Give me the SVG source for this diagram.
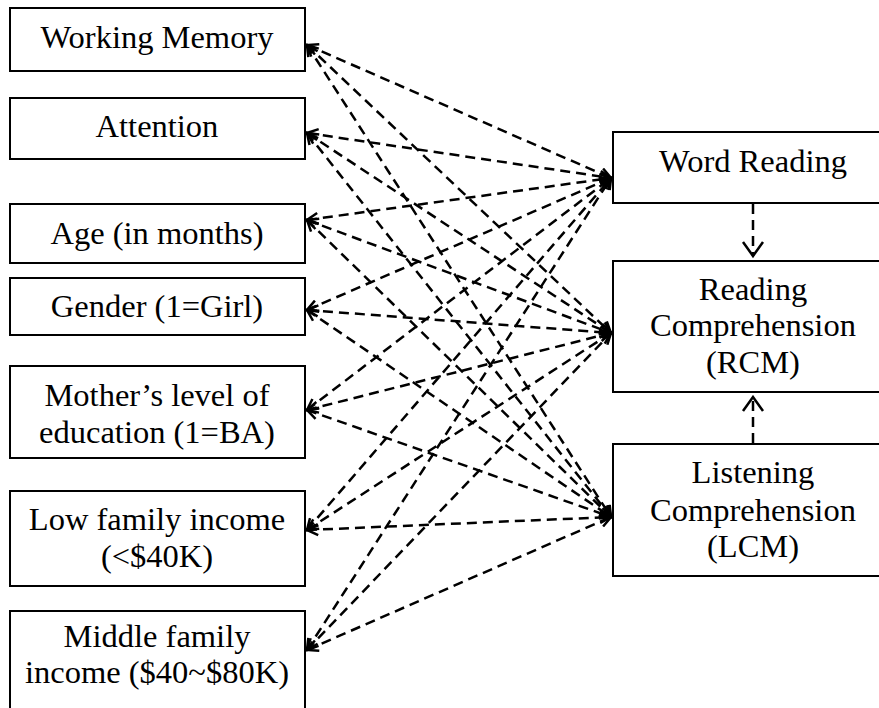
<svg xmlns="http://www.w3.org/2000/svg" width="879" height="708" viewBox="0 0 879 708">
<style>
.box{fill:#fff;stroke:#000;stroke-width:2}
.t{font-family:"Liberation Serif","Times New Roman",serif;font-size:32.5px;fill:#000;text-anchor:middle}
.c{fill:none;stroke:#000;stroke-width:2.5;stroke-dasharray:10 6}
</style>
<defs>
<marker id="ah" markerUnits="userSpaceOnUse" markerWidth="14" markerHeight="14" viewBox="-1 -7 13 14" refX="11" refY="0" orient="auto-start-reverse">
<path d="M0,-5.5 L11,0 L0,5.5" fill="none" stroke="#000" stroke-width="2.5" stroke-dasharray="none"/>
</marker>
<marker id="av" markerUnits="userSpaceOnUse" markerWidth="18" markerHeight="24" viewBox="-1 -12 17 24" refX="14" refY="0" orient="auto">
<path d="M0,-10 L14,0 L0,10" fill="none" stroke="#000" stroke-width="2.5" stroke-dasharray="none"/>
</marker>
</defs>
<rect width="879" height="708" fill="#fff"/>
<g id="connectors">
<line class="c" x1="307" y1="45" x2="611" y2="178" marker-start="url(#ah)" marker-end="url(#ah)"/>
<line class="c" x1="307" y1="45" x2="611" y2="333" marker-start="url(#ah)" marker-end="url(#ah)"/>
<line class="c" x1="307" y1="45" x2="611" y2="517" marker-start="url(#ah)" marker-end="url(#ah)"/>
<line class="c" x1="307" y1="133" x2="611" y2="178" marker-start="url(#ah)" marker-end="url(#ah)"/>
<line class="c" x1="307" y1="133" x2="611" y2="333" marker-start="url(#ah)" marker-end="url(#ah)"/>
<line class="c" x1="307" y1="133" x2="611" y2="517" marker-start="url(#ah)" marker-end="url(#ah)"/>
<line class="c" x1="307" y1="220" x2="611" y2="178" marker-start="url(#ah)" marker-end="url(#ah)"/>
<line class="c" x1="307" y1="220" x2="611" y2="333" marker-start="url(#ah)" marker-end="url(#ah)"/>
<line class="c" x1="307" y1="220" x2="611" y2="517" marker-start="url(#ah)" marker-end="url(#ah)"/>
<line class="c" x1="307" y1="310" x2="611" y2="178" marker-start="url(#ah)" marker-end="url(#ah)"/>
<line class="c" x1="307" y1="310" x2="611" y2="333" marker-start="url(#ah)" marker-end="url(#ah)"/>
<line class="c" x1="307" y1="310" x2="611" y2="517" marker-start="url(#ah)" marker-end="url(#ah)"/>
<line class="c" x1="307" y1="410" x2="611" y2="178" marker-start="url(#ah)" marker-end="url(#ah)"/>
<line class="c" x1="307" y1="410" x2="611" y2="333" marker-start="url(#ah)" marker-end="url(#ah)"/>
<line class="c" x1="307" y1="410" x2="611" y2="517" marker-start="url(#ah)" marker-end="url(#ah)"/>
<line class="c" x1="307" y1="530" x2="611" y2="178" marker-start="url(#ah)" marker-end="url(#ah)"/>
<line class="c" x1="307" y1="530" x2="611" y2="333" marker-start="url(#ah)" marker-end="url(#ah)"/>
<line class="c" x1="307" y1="530" x2="611" y2="517" marker-start="url(#ah)" marker-end="url(#ah)"/>
<line class="c" x1="307" y1="650" x2="611" y2="178" marker-start="url(#ah)" marker-end="url(#ah)"/>
<line class="c" x1="307" y1="650" x2="611" y2="333" marker-start="url(#ah)" marker-end="url(#ah)"/>
<line class="c" x1="307" y1="650" x2="611" y2="517" marker-start="url(#ah)" marker-end="url(#ah)"/>
<line class="c" x1="753" y1="204" x2="753" y2="256" marker-end="url(#av)"/>
<line class="c" x1="753" y1="443" x2="753" y2="397" marker-end="url(#av)"/>
</g>
<g id="n-wm"><rect class="box" x="10" y="8" width="295" height="63"/><text class="t" x="157" y="48">Working Memory</text></g>
<g id="n-att"><rect class="box" x="10" y="98" width="295" height="61"/><text class="t" x="157" y="137">Attention</text></g>
<g id="n-age"><rect class="box" x="10" y="204" width="295" height="59"/><text class="t" x="157" y="244">Age (in months)</text></g>
<g id="n-gender"><rect class="box" x="10" y="278" width="295" height="57"/><text class="t" x="157" y="317">Gender (1=Girl)</text></g>
<g id="n-mother"><rect class="box" x="10" y="366" width="295" height="92"/><text class="t" x="157" y="406">Mother’s level of</text><text class="t" x="157" y="443">education (1=BA)</text></g>
<g id="n-low"><rect class="box" x="10" y="491" width="295" height="95"/><text class="t" x="157" y="530">Low family income</text><text class="t" x="157" y="567">(&lt;$40K)</text></g>
<g id="n-mid"><rect class="box" x="10" y="611" width="295" height="110"/><text class="t" x="157" y="647">Middle family</text><text class="t" x="157" y="683">income ($40~$80K)</text></g>
<g id="n-wr"><rect class="box" x="613" y="132" width="280" height="71"/><text class="t" x="753" y="172">Word Reading</text></g>
<g id="n-rcm"><rect class="box" x="613" y="261" width="280" height="131"/><text class="t" x="753" y="300">Reading</text><text class="t" x="753" y="336">Comprehension</text><text class="t" x="753" y="373">(RCM)</text></g>
<g id="n-lcm"><rect class="box" x="613" y="444" width="280" height="132"/><text class="t" x="753" y="483">Listening</text><text class="t" x="753" y="521">Comprehension</text><text class="t" x="753" y="557">(LCM)</text></g>
</svg>
